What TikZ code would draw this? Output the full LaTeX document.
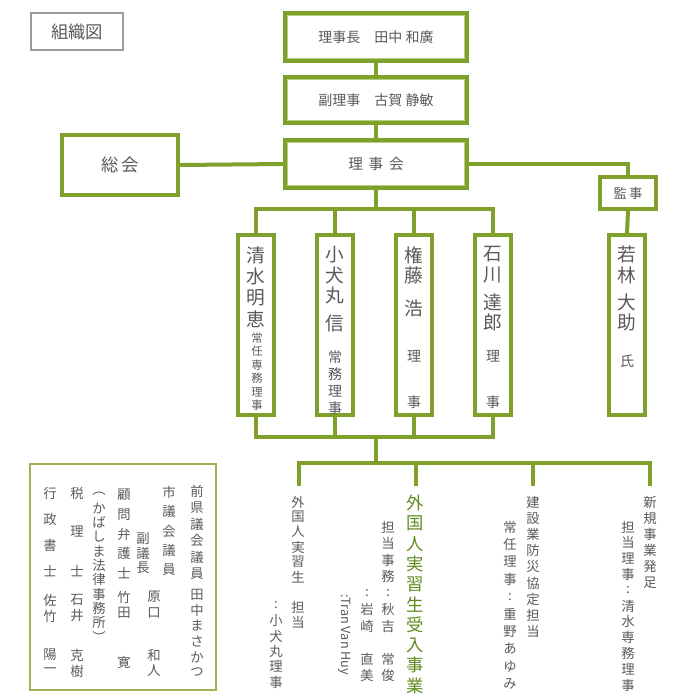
\documentclass[tikz,border=0pt]{standalone}
\usepackage{fontspec}
\setmainfont{Noto Sans CJK JP}
\setsansfont{Noto Sans CJK JP}

\definecolor{leaf}{HTML}{7FA02A}
\definecolor{leaflight}{HTML}{B8CF83}
\definecolor{ink}{HTML}{5A5A5A}
\definecolor{leaftext}{HTML}{5E8A1E}

\tikzset{
  mainbox/.style={draw=leaf, line width=3pt, fill=white, inner sep=0pt, text=ink},
  dirbox/.style={draw=leaf, line width=3pt, fill=white, minimum width=27pt, minimum height=135pt, inner sep=0pt},
  link/.style={draw=leaf, line width=3pt},
  vch/.style={text=ink, font=\fontsize{10}{10}\selectfont, inner sep=0pt}
}

% vertical column of characters: [style]{x}{y of first}{step}{list}
\newcommand\vcol[5][]{\foreach \c [count=\i from 0] in {#5} \path (#2,{#3+\i*#4}) node[vch,#1] {\c};}

\begin{document}
\begin{tikzpicture}[x=0.75pt, y=-0.75pt]
\useasboundingbox (0,0) rectangle (700,700);

%----------------------------------------------------
% upper boxes
%----------------------------------------------------
\node[draw=ink!60, line width=1.2pt, minimum width=69pt, minimum height=27.5pt, text=ink, font=\fontsize{13}{13}\selectfont] (title) at (77,31.5) {組織図};

\node[mainbox, minimum width=136.5pt, minimum height=36pt, font=\fontsize{10.5}{10.5}\selectfont] (chair) at (376,37) {理事長\quad 田中 和廣};
\node[mainbox, minimum width=136.5pt, minimum height=35pt, font=\fontsize{10.5}{10.5}\selectfont] (vice) at (376,100) {副理事\quad 古賀 静敏};
\node[mainbox, minimum width=136.5pt, minimum height=36.5pt, font=\fontsize{11}{11}\selectfont] (board) at (376,164) {理\,\ 事\,\ 会};
\node[mainbox, minimum width=87pt, minimum height=45pt, font=\fontsize{13}{13}\selectfont] (assembly) at (120,165) {総\,会};
\node[mainbox, line width=2.4pt, minimum width=42pt, minimum height=24pt, font=\fontsize{10}{10}\selectfont] (auditor) at (628,193) {監\,事};

% inner thin frames
\foreach \b in {chair,vice,board}
  \draw[leaflight, line width=1pt] ([shift={(3.5pt,3.5pt)}]\b.south west) rectangle ([shift={(-3.5pt,-3.5pt)}]\b.north east);

%----------------------------------------------------
% directors
%----------------------------------------------------
\node[dirbox] (shimizu) at (256,325) {};
\node[dirbox] (koinumaru) at (335,325) {};
\node[dirbox] (gondo) at (414,325) {};
\node[dirbox] (ishikawa) at (493,325) {};
\node[dirbox] (wakabayashi) at (627,325) {};

\vcol[font=\fontsize{14}{14}\selectfont]{256}{255}{21.5}{清,水,明,恵}
\vcol[font=\fontsize{8.5}{8.5}\selectfont]{257}{338}{13.5}{常,任,専,務,理,事}
\vcol[font=\fontsize{14}{14}\selectfont]{335}{255}{20}{小,犬,丸}
\vcol[font=\fontsize{14}{14}\selectfont]{335}{323}{20}{信}
\vcol[font=\fontsize{10.5}{10.5}\selectfont]{335}{357}{17}{常,務,理,事}
\vcol[font=\fontsize{14}{14}\selectfont]{414}{255}{20}{権,藤}
\vcol[font=\fontsize{14}{14}\selectfont]{414}{308}{20}{浩}
\vcol[font=\fontsize{10.5}{10.5}\selectfont]{414}{356}{46}{理,事}
\vcol[font=\fontsize{14}{14}\selectfont]{493}{254}{21}{石,川}
\vcol[font=\fontsize{14}{14}\selectfont]{493}{302}{20}{達,郎}
\vcol[font=\fontsize{10.5}{10.5}\selectfont]{493}{356}{46}{理,事}
\vcol[font=\fontsize{14}{14}\selectfont]{627}{254}{21}{若,林}
\vcol[font=\fontsize{14}{14}\selectfont]{627}{302}{20}{大,助}
\vcol[font=\fontsize{10.5}{10.5}\selectfont]{627}{361}{20}{氏}

%----------------------------------------------------
% connectors
%----------------------------------------------------
\coordinate (tbar) at (376,209);
\coordinate (bbar) at (376,437);
\coordinate (jbar) at (376,463);
\coordinate (d1) at (299,486);
\coordinate (d2) at (416,486);
\coordinate (d3) at (533,486);
\coordinate (d4) at (650,486);

\draw[link] (chair.south) -- (vice.north);
\draw[link] (vice.south) -- (board.north);
\draw[link] (assembly.east) -- (board.west);
\draw[link] (board.east) -| (auditor.north);
\draw[link] (auditor.south) -- (wakabayashi.north);
\draw[link] (board.south) -- (tbar);
\draw[link] (shimizu.north) |- (tbar) -| (ishikawa.north);
\draw[link] (koinumaru.north) -- (koinumaru.north |- tbar);
\draw[link] (gondo.north) -- (gondo.north |- tbar);
\draw[link] (shimizu.south) |- (bbar) -| (ishikawa.south);
\draw[link] (koinumaru.south) -- (koinumaru.south |- bbar);
\draw[link] (gondo.south) -- (gondo.south |- bbar);
\draw[link] (bbar) -- (jbar);
\draw[link] (d1) |- (jbar) -| (d4);
\draw[link] (d2) -- (d2 |- jbar);
\draw[link] (d3) -- (d3 |- jbar);

%----------------------------------------------------
% project columns
%----------------------------------------------------
\vcol{298}{502}{15}{外,国,人,実,習,生,~,担,当}
\vcol{276}{605}{15.5}{:,小,犬,丸,理,事}
\vcol[text=leaftext, font=\fontsize{13}{13}\selectfont]{415}{503}{20.3}{外,国,人,実,習,生,受,入,事,業}
\vcol{388}{527}{16.5}{担,当,事,務,:,秋,吉,~,常,俊}
\vcol{367}{593}{16.5}{:,岩,崎,~,直,美}
\node[vch, rotate=-90, anchor=west, font=\fontsize{9.5}{9.5}\selectfont] (tran) at (345,594) {:Tran Van Huy};
\vcol{533}{502}{16.2}{建,設,業,防,災,協,定,担,当}
\vcol{510}{527}{17.4}{常,任,理,事,:,重,野,あ,ゆ,み}
\vcol{650}{502}{16.2}{新,規,事,業,発,足}
\vcol{628}{527}{15.8}{担,当,理,事,:,清,水,専,務,理,事}

%----------------------------------------------------
% advisers
%----------------------------------------------------
\node[draw=leaf!80, line width=1.3pt, minimum width=139pt, minimum height=170pt] (advisers) at (123,577) {};
\vcol{197}{491}{16.5}{前,県,議,会,議,員}
\vcol{197}{595}{15.5}{田,中,ま,さ,か,つ}
\vcol{169}{492}{19.5}{市,議,会,議,員}
\vcol{143}{539}{14.5}{副,議,長}
\vcol{154}{597}{16}{原,口}
\vcol{154}{655}{16}{和,人}
\vcol{124}{495}{19.5}{顧,問,弁,護,士}
\vcol{124}{597}{16}{竹,田}
\vcol{124}{662}{16}{寛}
\vcol{99}{494}{14.3}{︵,か,ば,し,ま,法,律,事,務,所,︶}
\vcol{77}{493}{39}{税,理,士}
\vcol{77}{600}{16}{石,井}
\vcol{77}{655}{16}{克,樹}
\vcol{50}{493}{26}{行,政,書,士}
\vcol{50}{600}{16}{佐,竹}
\vcol{50}{655}{16}{陽,一}

\end{tikzpicture}
\end{document}
